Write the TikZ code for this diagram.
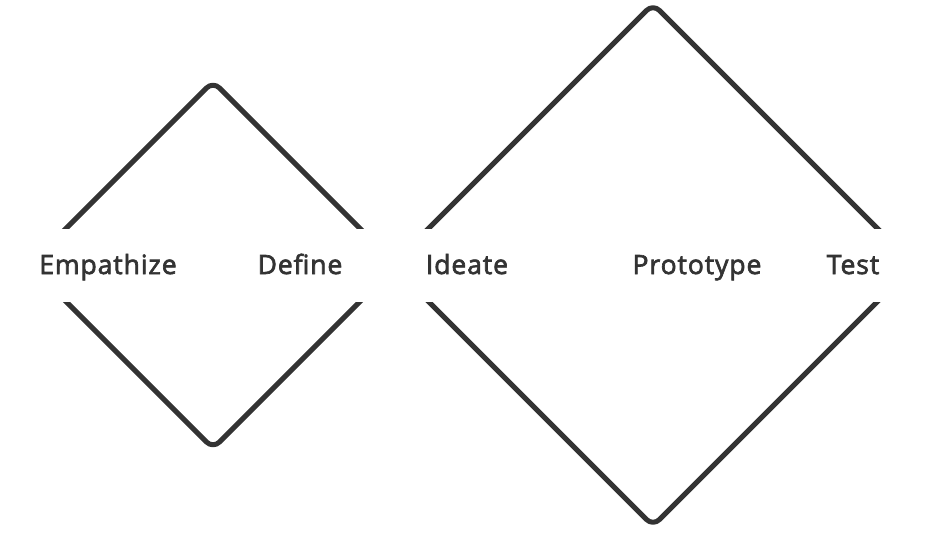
\documentclass[tikz,border=0pt]{standalone}
\usepackage{fontspec}
\setmainfont{Open Sans}
\newfontfamily\lblfont{Open Sans}[FakeBold=2.5,LetterSpace=3.5]
\definecolor{ink}{HTML}{333333}
\begin{document}
\begin{tikzpicture}[x=1pt,y=-1pt,
  edge/.style={draw=ink,line width=5pt,rounded corners=9pt,line join=round},
  lbl/.style={text=ink,font=\lblfont\fontsize{26.5}{30}\selectfont,anchor=base,inner sep=0pt}]
\useasboundingbox (0,0) rectangle (941,533);
\coordinate (sT) at (213,81.5);
\coordinate (sB) at (213,448.5);
\coordinate (sL) at (29.5,265);
\coordinate (sR) at (396.5,265);
\coordinate (lT) at (653,4);
\coordinate (lB) at (653,526);
\coordinate (lL) at (392,265);
\coordinate (lR) at (914,265);
\begin{scope}
\clip (0,0) rectangle (941,228);
\draw[edge] (sL) -- (sT) -- (sR);
\draw[edge] (lL) -- (lT) -- (lR);
\end{scope}
\begin{scope}
\clip (0,302) rectangle (941,533);
\draw[edge] (sL) -- (sB) -- (sR);
\draw[edge] (lL) -- (lB) -- (lR);
\end{scope}
\node[lbl] (emp) at (108,274) {Empathize};
\node[lbl] (def) at (300,274) {Define};
\node[lbl] (ide) at (467,274) {Ideate};
\node[lbl] (pro) at (697,274) {Prototype};
\node[lbl] (tes) at (853,274) {Test};
\end{tikzpicture}
\end{document}
